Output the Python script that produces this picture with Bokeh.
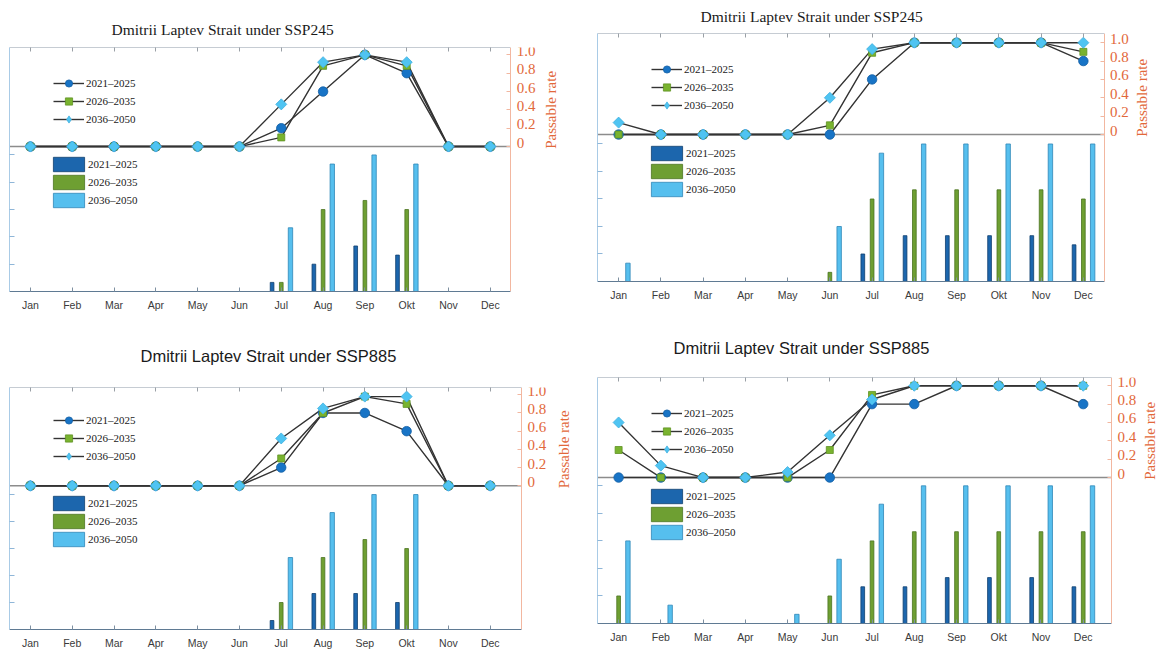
import math
import numpy as np
from bokeh.plotting import figure
from bokeh.models import (ColumnDataSource, Range1d, LinearAxis, FixedTicker,
                          Legend, LegendItem, Label, Grid)
from bokeh.core.properties import value
from bokeh.transform import dodge
from bokeh.layouts import column, row
from bokeh.embed import file_html
from bokeh.resources import INLINE

# ---------------- data ----------------
months = ["Jan", "Feb", "Mar", "Apr", "May", "Jun", "Jul", "Aug", "Sep", "Okt", "Nov", "Dec"]
periods = ["2021\u20132025", "2026\u20132035", "2036\u20132050"]
titles = ["Dmitrii Laptev Strait under SSP245", "Dmitrii Laptev Strait under SSP245",
          "Dmitrii Laptev Strait under SSP885", "Dmitrii Laptev Strait under SSP885"]
right_ticks = [0, 0.2, 0.4, 0.6, 0.8, 1.0]
right_tick_labels = ["0", "0.2", "0.4", "0.6", "0.8", "1.0"]
right_label = "Passable rate"

# panel A (top-left, SSP245)
lineA_2021 = [0, 0, 0, 0, 0, 0, 0.2, 0.6, 1.0, 0.8, 0, 0]
lineA_2026 = [0, 0, 0, 0, 0, 0, 0.1, 0.88, 1.0, 0.88, 0, 0]
lineA_2036 = [0, 0, 0, 0, 0, 0, 0.46, 0.92, 1.0, 0.92, 0, 0]
barA_2021 = [0, 0, 0, 0, 0, 0, 1, 3, 5, 4, 0, 0]
barA_2026 = [0, 0, 0, 0, 0, 0, 1, 9, 10, 9, 0, 0]
barA_2036 = [0, 0, 0, 0, 0, 0, 7, 14, 15, 14, 0, 0]

# panel B (top-right, SSP245)
lineB_2021 = [0, 0, 0, 0, 0, 0, 0.6, 1.0, 1.0, 1.0, 1.0, 0.8]
lineB_2026 = [0, 0, 0, 0, 0, 0.1, 0.89, 1.0, 1.0, 1.0, 1.0, 0.9]
lineB_2036 = [0.13, 0, 0, 0, 0, 0.4, 0.93, 1.0, 1.0, 1.0, 1.0, 1.0]
barB_2021 = [0, 0, 0, 0, 0, 0, 3, 5, 5, 5, 5, 4]
barB_2026 = [0, 0, 0, 0, 0, 1, 9, 10, 10, 10, 10, 9]
barB_2036 = [2, 0, 0, 0, 0, 6, 14, 15, 15, 15, 15, 15]

# panel C (bottom-left, SSP885)
lineC_2021 = [0, 0, 0, 0, 0, 0, 0.2, 0.8, 0.8, 0.6, 0, 0]
lineC_2026 = [0, 0, 0, 0, 0, 0, 0.3, 0.8, 0.98, 0.9, 0, 0]
lineC_2036 = [0, 0, 0, 0, 0, 0, 0.52, 0.85, 0.98, 0.98, 0, 0]
barC_2021 = [0, 0, 0, 0, 0, 0, 1, 4, 4, 3, 0, 0]
barC_2026 = [0, 0, 0, 0, 0, 0, 3, 8, 10, 9, 0, 0]
barC_2036 = [0, 0, 0, 0, 0, 0, 8, 13, 15, 15, 0, 0]

# panel D (bottom-right, SSP885)
lineD_2021 = [0, 0, 0, 0, 0, 0, 0.8, 0.8, 1.0, 1.0, 1.0, 0.8]
lineD_2026 = [0.3, 0, 0, 0, 0, 0.3, 0.9, 1.0, 1.0, 1.0, 1.0, 1.0]
lineD_2036 = [0.6, 0.13, 0, 0, 0.06, 0.46, 0.85, 1.0, 1.0, 1.0, 1.0, 1.0]
barD_2021 = [0, 0, 0, 0, 0, 0, 4, 4, 5, 5, 5, 4]
barD_2026 = [3, 0, 0, 0, 0, 3, 9, 10, 10, 10, 10, 10]
barD_2036 = [9, 2, 0, 0, 1, 7, 13, 15, 15, 15, 15, 15]

# ---------------- styles ----------------
ORANGE = "#e2683a"
SALMON = "#f2b7a0"
bar_fill = ["#1c66ad", "#6e9f32", "#56bfee"]
bar_line = ["#0f3f6e", "#4b7421", "#2f86b8"]
bar_off = [-0.22, 0.0, 0.22]
bar_w = [0.088, 0.088, 0.105]
mk = ["circle", "square", "square"]
mk_angle = [0, 0, 45]
mk_size = [9.5, 7, 7.8]
mk_fill = ["#1874c6", "#79b32f", "#4fc4f2"]
mk_line = ["#125ea3", "#5f9223", "#3fb0e0"]
X0 = -0.5


def panel(idx, lines, bars, width, height, bl, br, bt, bb, x_edge, x_end, bar_end, line_rng,
          title_font, title_size, title_offset, title_standoff, leg_line_xy, leg_bar_xy,
          rl_offset):
    p = figure(width=width, height=height, output_backend="svg", toolbar_location=None,
               x_range=Range1d(X0, x_end), y_range=Range1d(0, bar_end),
               x_axis_location=None, y_axis_location=None,
               min_border_left=bl, min_border_right=br, min_border_top=bt, min_border_bottom=bb,
               outline_line_color=None,
               background_fill_color="white", border_fill_color="white")
    try:
        p.frame_align = False
    except Exception:
        pass
    for g in list(p.center):
        if isinstance(g, Grid):
            g.visible = False
    p.extra_y_ranges = {"line": Range1d(*line_rng)}

    src = ColumnDataSource(dict(x=list(range(len(months))),
                                b0=bars[0], b1=bars[1], b2=bars[2],
                                l0=lines[0], l1=lines[1], l2=lines[2]))

    # zero reference line of the passable-rate scale
    p.segment(x0=X0, y0=0, x1=x_edge, y1=0, y_range_name="line",
              line_color="#8c8c8c", line_width=1.5, level="underlay")

    bar_rs = []
    for i in range(3):
        r = p.vbar(x=dodge("x", bar_off[i]), top="b%d" % i, width=bar_w[i], source=src,
                   fill_color=bar_fill[i], line_color=bar_line[i], line_width=0.8)
        bar_rs.append(r)

    line_rs = []
    for i in range(3):
        lr = p.line("x", "l%d" % i, source=src, y_range_name="line",
                    line_color="#333333", line_width=1.4)
        line_rs.append(lr)
    sc_rs = []
    for i in range(3):
        sr = p.scatter("x", "l%d" % i, source=src, y_range_name="line", marker=mk[i],
                       size=mk_size[i], angle=mk_angle[i], angle_units="deg",
                       fill_color=mk_fill[i], line_color=mk_line[i], line_width=0.8)
        sc_rs.append(sr)

    # legend swatch for the diamond series (a single NaN point, never drawn in the plot)
    dsrc = ColumnDataSource(dict(x=np.array([0.0]), y=np.array([np.nan])))
    dia = p.scatter("x", "y", source=dsrc, y_range_name="line", marker="diamond",
                    fill_color=mk_fill[2], line_color=mk_line[2], line_width=0.8)
    leg_mk = [sc_rs[0], sc_rs[1], dia]

    # axes
    bottom = LinearAxis(ticker=FixedTicker(ticks=list(range(len(months)))),
                        bounds=(X0, x_edge),
                        major_label_overrides={i: m for i, m in enumerate(months)},
                        major_tick_in=4, major_tick_out=0, minor_tick_out=0,
                        major_label_standoff=7,
                        axis_line_color="#5f7a93", major_tick_line_color="#7d8fa0",
                        major_label_text_font="Liberation Sans",
                        major_label_text_font_size="10.5px",
                        major_label_text_color="#3a3a3a")
    p.add_layout(bottom, "below")

    top = LinearAxis(ticker=FixedTicker(ticks=[], minor_ticks=list(range(len(months)))),
                     bounds=(X0, x_edge),
                     major_tick_in=0, major_tick_out=0, minor_tick_in=4, minor_tick_out=0,
                     major_label_standoff=0,
                     axis_line_color="#c6ccd3", minor_tick_line_color="#9aa0a6")
    p.add_layout(top, "above")

    left = LinearAxis(ticker=FixedTicker(ticks=[], minor_ticks=[3, 6, 9, 12, 15]),
                      major_tick_in=0, major_tick_out=0, minor_tick_in=5, minor_tick_out=0,
                      major_label_standoff=0,
                      axis_line_color="#a9cbe6", minor_tick_line_color="#8fb6d8")
    p.add_layout(left, "left")

    # salmon right border (passable-rate scale) at the end of the month scale
    right = LinearAxis(y_range_name="line",
                       ticker=FixedTicker(ticks=[], minor_ticks=right_ticks),
                       fixed_location=x_edge,
                       major_tick_in=0, major_tick_out=0, minor_tick_in=4, minor_tick_out=0,
                       major_label_standoff=0,
                       axis_line_color=SALMON, minor_tick_line_color=SALMON)
    p.add_layout(right, "right")

    tsrc = ColumnDataSource(dict(y=right_ticks, t=right_tick_labels))
    p.text(x=x_edge, y="y", text="t", source=tsrc, y_range_name="line",
           x_offset=6, y_offset=-4, text_align="left", text_baseline="middle",
           text_font=value("Liberation Serif"), text_font_size=value("15px"),
           text_color=ORANGE)

    p.add_layout(Label(x=x_edge, y=0.4, y_range_name="line", x_offset=rl_offset,
                       text=right_label, angle=90, angle_units="deg",
                       text_align="center", text_baseline="middle",
                       text_font="Liberation Serif", text_font_size="15px",
                       text_color=ORANGE))

    # title
    p.title.text = titles[idx]
    p.title.align = "left"
    p.title.vertical_align = "top"
    p.title.offset = title_offset
    p.title.standoff = title_standoff
    p.title.text_font = title_font
    p.title.text_font_size = title_size
    p.title.text_font_style = "normal"
    p.title.text_color = "#1a1a1a"

    common = dict(padding=0, spacing=0, margin=0, border_line_alpha=0,
                  background_fill_alpha=0, label_text_font="Liberation Serif",
                  label_text_font_size="11px", label_text_color="#1a1a1a",
                  label_height=18, glyph_height=18)
    leg_l = Legend(items=[LegendItem(label=periods[i], renderers=[line_rs[i], leg_mk[i]])
                          for i in range(3)],
                   location=leg_line_xy, glyph_width=31, label_standoff=2, **common)
    leg_b = Legend(items=[LegendItem(label=periods[i], renderers=[bar_rs[i]])
                          for i in range(3)],
                   location=leg_bar_xy, glyph_width=39, label_standoff=0, **common)
    p.add_layout(leg_l, "center")
    p.add_layout(leg_b, "center")
    return p


p1 = panel(0, [lineA_2021, lineA_2026, lineA_2036], [barA_2021, barA_2026, barA_2036],
           580, 319, 9, 17, 47, 28, 11.49, 12.75, 26.8, (-1.58, 1.08),
           "Liberation Serif", "15.5px", 102, 16, (44, 163), (40, 82), 40)
p2 = panel(1, [lineB_2021, lineB_2026, lineB_2036], [barB_2021, barB_2026, barB_2036],
           588, 319, 17, 15, 33, 38, 11.49, 12.66, 27.05, (-1.60, 1.10),
           "Liberation Serif", "15.5px", 103, 13, (54, 167), (50, 83), 38)
p3 = panel(2, [lineC_2021, lineC_2026, lineC_2036], [barC_2021, barC_2026, barC_2036],
           580, 332, 9, 5, 68, 20, 11.75, 13.04, 26.9, (-1.58, 1.08),
           "Liberation Sans", "16.5px", 131, 41, (44, 164), (40, 81), 42)
p4 = panel(3, [lineD_2021, lineD_2026, lineD_2036], [barD_2021, barD_2026, barD_2036],
           588, 332, 17, 8, 58, 28, 11.67, 12.83, 26.8, (-1.59, 1.09),
           "Liberation Sans", "16.5px", 76, 37, (54, 165), (50, 82), 38)

layout = column(row(p1, p2, spacing=0), row(p3, p4, spacing=0), spacing=0)
open("out.html", "w").write(file_html(layout, INLINE))
